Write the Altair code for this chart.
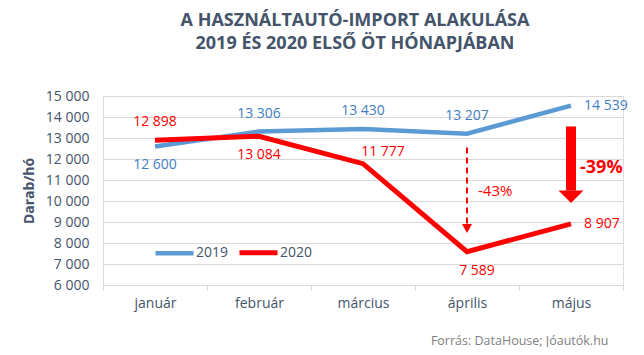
import altair as alt
import pandas as pd

# ---- data ----
months = ["január", "február", "március", "április", "május"]
sales_2019 = [12600, 13306, 13430, 13207, 14539]
sales_2020 = [12898, 13084, 11777, 7589, 8907]
label_pos_2019 = ["below", "above", "above", "above", "right"]
label_pos_2020 = ["above", "below", "above_r", "below_r", "right"]
y_ticks = [6000, 7000, 8000, 9000, 10000, 11000, 12000, 13000, 14000, 15000]

# drop annotations (April dashed arrow, May bold arrow)
ann_month = ["április", "május"]
ann_from = [12550, 13550]
ann_to = [8900, 10500]
ann_text = ["-43%", "-39%"]
ann_text_y = [10500, 11550]

title_lines = ["A HASZNÁLTAUTÓ-IMPORT ALAKULÁSA", "2019 ÉS 2020 ELSŐ ÖT HÓNAPJÁBAN"]
source_text = "Forrás: DataHouse; Jóautók.hu"

FONT = "Open Sans"
BLUE = "#5B9BD5"
BLUE_TXT = "#3F7EC4"
RED = "#FF0000"
SLATE = "#44546A"
GRID = "#D9D9D9"

rows = []
for m, v, p in zip(months, sales_2019, label_pos_2019):
    rows.append({"month": m, "value": v, "year": "2019", "pos": p})
for m, v, p in zip(months, sales_2020, label_pos_2020):
    rows.append({"month": m, "value": v, "year": "2020", "pos": p})
df = pd.DataFrame(rows)

ann = pd.DataFrame({"month": ann_month, "y0": ann_from, "y1": ann_to,
                    "txt": ann_text, "ty": ann_text_y})

fmt = "replace(format(datum.value, ','), ',', ' ')"

x_axis = alt.Axis(
    grid=False, domainColor=GRID, tickColor=GRID, tickSize=5, tickBand="extent",
    labelAngle=0, labelFont=FONT, labelFontSize=14, labelColor=SLATE, labelPadding=6,
    title=source_text, titleFont=FONT, titleFontSize=12.5, titleFontWeight="normal",
    titleColor="#7F7F7F", titleX=505, titleY=59, titleAlign="right",
    titleBaseline="alphabetic", titleAnchor="end",
)
y_axis = alt.Axis(
    values=y_ticks, labelExpr=fmt, grid=True, gridColor=GRID, ticks=False, domain=False,
    labelFont=FONT, labelFontSize=14, labelColor=SLATE, labelPadding=14,
    title="Darab/hó", titleFont=FONT, titleFontSize=14, titleFontWeight="bold",
    titleColor=SLATE, titleX=-67,
)
x_scale = alt.Scale(type="band", paddingInner=0, paddingOuter=0)
y_scale = alt.Scale(domain=[6000, 15000], nice=False, zero=False)


def X():
    return alt.X("month:N", sort=months, scale=x_scale, axis=x_axis)


def Y(field):
    return alt.Y(f"{field}:Q", scale=y_scale, axis=y_axis)


base = alt.Chart(df)

lines = base.mark_line(strokeCap="butt", strokeJoin="miter").encode(
    x=X(), y=Y("value"),
    color=alt.Color("year:N", scale=alt.Scale(domain=["2019", "2020"], range=[BLUE, RED]),
                    legend=alt.Legend(orient="none", legendX=50, legendY=135,
                                      direction="horizontal", title=None,
                                      symbolType="stroke", symbolSize=1444,
                                      symbolStrokeWidth=5, labelFont=FONT,
                                      labelFontSize=14, labelColor=SLATE,
                                      columnPadding=0, labelOffset=0, padding=0)),
    strokeWidth=alt.StrokeWidth("year:N", scale=alt.Scale(domain=["2019", "2020"], range=[4.5, 5]),
                                legend=None),
)

txt_color = alt.condition("datum.year == '2019'", alt.value(BLUE_TXT), alt.value(RED))


def labels(pos, **kw):
    return base.transform_filter(f"datum.pos == '{pos}'").transform_calculate(
        lbl=fmt).mark_text(font=FONT, fontSize=14, **kw).encode(
        x=X(), y=Y("value"), text="lbl:N", color=txt_color)


lab_above = labels("above", dy=-18)
lab_below = labels("below", dy=19)
lab_above_r = labels("above_r", dy=-12, dx=20)
lab_below_r = labels("below_r", dy=19, dx=10)
lab_right = labels("right", dx=13, align="left")

abase = alt.Chart(ann)
arrow_dash = abase.transform_filter("datum.month == 'április'").mark_rule(
    color=RED, strokeWidth=2, strokeDash=[6, 4]).encode(x=X(), y=Y("y0"), y2="y1:Q")
head_dash = abase.transform_filter("datum.month == 'április'").mark_point(
    shape="M-1,0 L1,0 L0,1.8 Z", size=100, filled=True, opacity=1, color=RED).encode(
    x=X(), y=Y("y1"))
arrow_big = abase.transform_filter("datum.month == 'május'").mark_rule(
    color=RED, strokeWidth=10, strokeCap="butt").encode(x=X(), y=Y("y0"), y2="y1:Q")
head_big = abase.transform_filter("datum.month == 'május'").mark_point(
    shape="M-1,0 L1,0 L0,1 Z", size=625, filled=True, opacity=1, color=RED).encode(
    x=X(), y=Y("y1"))
txt_small = abase.transform_filter("datum.month == 'április'").mark_text(
    font=FONT, fontSize=15, color=RED, align="left", dx=11).encode(
    x=X(), y=Y("ty"), text="txt:N")
txt_big = abase.transform_filter("datum.month == 'május'").mark_text(
    font=FONT, fontSize=18, fontWeight="bold", color=RED, align="left", dx=9).encode(
    x=X(), y=Y("ty"), text="txt:N")

chart = alt.layer(
    lines, lab_above, lab_below, lab_above_r, lab_below_r, lab_right,
    arrow_dash, head_dash, arrow_big, head_big, txt_small, txt_big,
).properties(
    width=520, height=189,
    title=alt.Title(title_lines, font=FONT, fontSize=18, fontWeight="bold", color=SLATE,
                    anchor="middle", offset=36, lineHeight=23, dx=-8),
    autosize=alt.AutoSizeParams(type="none"),
    padding={"left": 95, "top": 88, "right": 13, "bottom": 62},
).configure_view(stroke=None).configure(background="white")

chart.save("out.html", embed_options={"renderer": "svg", "actions": False})
